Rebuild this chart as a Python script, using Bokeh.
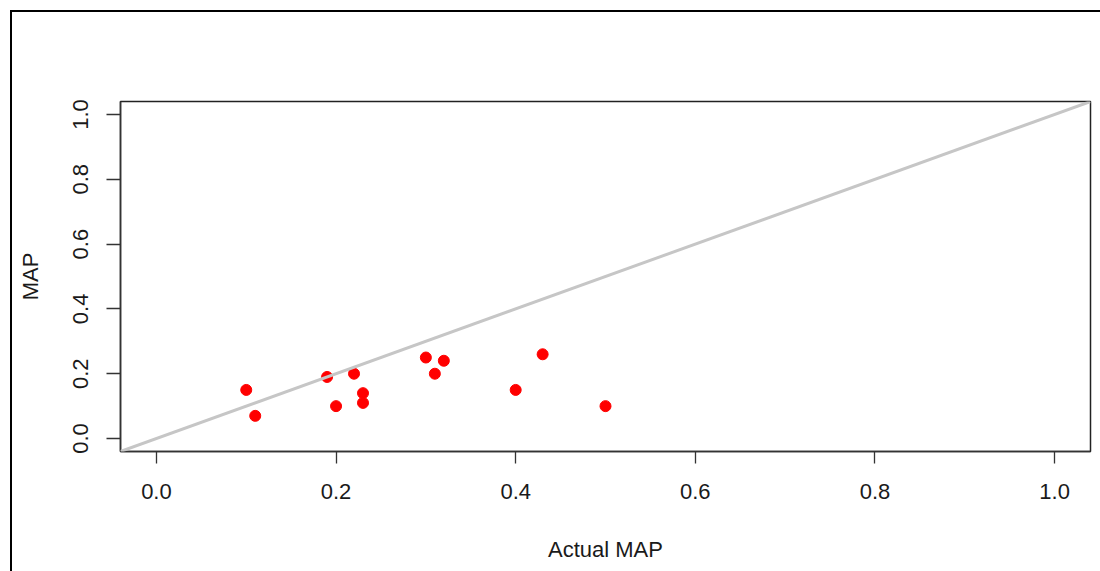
from bokeh.plotting import figure
from bokeh.models import Slope, FixedTicker, PrintfTickFormatter, Range1d
from bokeh.embed import file_html
from bokeh.resources import INLINE

# ---- data ----
actual_map = [0.10, 0.11, 0.19, 0.20, 0.22, 0.23, 0.23, 0.30, 0.32, 0.31, 0.40, 0.43, 0.50]
predicted_map = [0.15, 0.07, 0.19, 0.10, 0.20, 0.14, 0.11, 0.25, 0.24, 0.20, 0.15, 0.26, 0.10]
tick_values = [0.0, 0.2, 0.4, 0.6, 0.8, 1.0]
x_label = "Actual MAP"
y_label = "MAP"

FONT = "Liberation Sans"

p = figure(width=1100, height=571, output_backend="svg", toolbar_location=None,
           x_range=Range1d(-0.04, 1.04), y_range=Range1d(-0.04, 1.04),
           min_border_left=120, min_border_right=10, min_border_top=101, min_border_bottom=120)
p.grid.visible = False
p.background_fill_color = "white"
p.border_fill_alpha = 0
p.outline_line_color = "#222222"
p.outline_line_width = 1.5

# outer frame of the image (left and top edges visible), drawn as CSS background
p.styles = {
    "background-color": "white",
    "background-image": "linear-gradient(#000,#000), linear-gradient(#000,#000)",
    "background-size": "2px 100%, 100% 2px",
    "background-position": "10px 10px, 10px 10px",
    "background-repeat": "no-repeat",
}

p.scatter(actual_map, predicted_map, size=11, color="red", line_color="red")

p.add_layout(Slope(gradient=1, y_intercept=0, line_color="#c6c6c6", line_width=3))

for ax in (p.xaxis[0], p.yaxis[0]):
    ax.ticker = FixedTicker(ticks=tick_values)
    ax.formatter = PrintfTickFormatter(format="%.1f")
    ax.minor_tick_line_color = None
    ax.major_tick_in = 0
    ax.major_tick_line_color = "#333333"
    ax.major_tick_line_width = 1.3
    ax.axis_line_color = "#333333"
    ax.axis_line_width = 1.5
    ax.major_label_text_font = FONT
    ax.major_label_text_font_size = "22px"
    ax.major_label_text_color = "#1a1a1a"
    ax.axis_label_text_font = FONT
    ax.axis_label_text_font_size = "22px"
    ax.axis_label_text_font_style = "normal"
    ax.axis_label_text_color = "#1a1a1a"

p.xaxis.axis_label = x_label
p.yaxis.axis_label = y_label
p.xaxis.major_tick_out = 12
p.yaxis.major_tick_out = 14
p.xaxis.major_label_standoff = 20
p.yaxis.major_label_standoff = 18
p.yaxis.major_label_orientation = "vertical"
p.xaxis.axis_label_standoff = 35
p.yaxis.axis_label_standoff = 28

open("out.html", "w").write(file_html(p, INLINE))
